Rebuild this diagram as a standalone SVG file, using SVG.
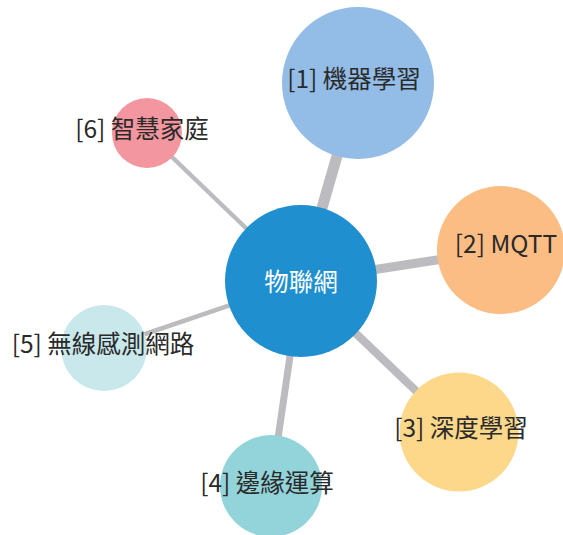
<svg xmlns="http://www.w3.org/2000/svg" width="563" height="535" viewBox="0 0 563 535">
<style>
.link{stroke:#bcbcc0;fill:none}
.lbl{font-family:"Noto Sans CJK TC","Noto Sans",sans-serif;font-size:24.5px;fill:#2a2a2a;text-anchor:middle;dominant-baseline:central}
.ctr{font-family:"Noto Sans CJK TC","Noto Sans",sans-serif;font-size:24.5px;fill:#ffffff;text-anchor:middle;dominant-baseline:central}
</style>
<rect width="563" height="535" fill="#ffffff"/>
<g id="connectors">
<line class="link" x1="301" y1="281" x2="358" y2="83" stroke-width="11"/>
<line class="link" x1="301" y1="281" x2="501" y2="250" stroke-width="9"/>
<line class="link" x1="301" y1="281" x2="459" y2="432" stroke-width="8"/>
<line class="link" x1="301" y1="281" x2="271" y2="486" stroke-width="7"/>
<line class="link" x1="301" y1="281" x2="104" y2="348" stroke-width="4.5"/>
<line class="link" x1="301" y1="281" x2="147" y2="133" stroke-width="4.5"/>
</g>
<g id="node-center">
<circle cx="301" cy="281" r="76" fill="#1f8fcf"/>
<text class="ctr" x="301" y="280">物聯網</text>
</g>
<g id="node-1">
<circle cx="358" cy="83" r="76" fill="#93bde6"/>
<text class="lbl" x="354" y="77">[1] 機器學習</text>
</g>
<g id="node-2">
<circle cx="501" cy="250" r="64" fill="#fbbd84"/>
<text class="lbl" x="506" y="242">[2] MQTT</text>
</g>
<g id="node-3">
<circle cx="459" cy="432" r="59.5" fill="#fdd88b"/>
<text class="lbl" x="461" y="426">[3] 深度學習</text>
</g>
<g id="node-4">
<circle cx="271" cy="486" r="51" fill="#93d4db"/>
<text class="lbl" x="267" y="481">[4] 邊緣運算</text>
</g>
<g id="node-5">
<circle cx="104" cy="348" r="43" fill="#c9e8eb"/>
<text class="lbl" x="103" y="342">[5] 無線感測網路</text>
</g>
<g id="node-6">
<circle cx="147" cy="133" r="35" fill="#f4969f"/>
<text class="lbl" x="142" y="127">[6] 智慧家庭</text>
</g>
</svg>
